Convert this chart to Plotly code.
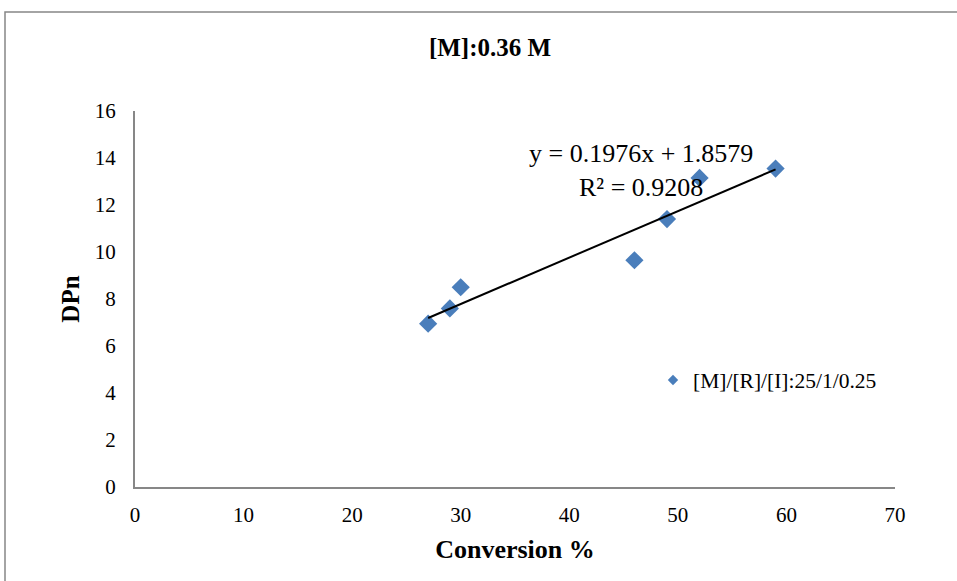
import plotly.graph_objects as go

# Monomer conversion (%) and degree of polymerisation
conversion = [27, 29, 30, 46, 49, 52, 59]
dpn = [6.95, 7.6, 8.5, 9.65, 11.4, 13.15, 13.55]

# Linear trendline coefficients
slope = 0.1976
intercept = 1.8579
r_squared = 0.9208

series_name = "[M]/[R]/[I]:25/1/0.25"
chart_title = "[M]:0.36 M"
x_ticks = [0, 10, 20, 30, 40, 50, 60, 70]
y_ticks = [0, 2, 4, 6, 8, 10, 12, 14, 16]

W, H = 957, 581
L, R, T, B = 135, 62, 111, 94
FONT = "Liberation Serif, Times New Roman, serif"
BLUE = "#4A7EBB"
AXIS = "#878787"

fig = go.Figure()

# data points
fig.add_trace(go.Scatter(
    x=conversion, y=dpn, mode="markers",
    marker=dict(symbol="diamond", size=14, color=BLUE),
    showlegend=False, cliponaxis=False,
))

# legend entry with a smaller marker
fig.add_trace(go.Scatter(
    x=[None], y=[None], mode="markers", name=series_name,
    marker=dict(symbol="diamond", size=8, color=BLUE),
))

# linear trendline across the data range
x_fit = [min(conversion), max(conversion)]
y_fit = [slope * v + intercept for v in x_fit]
fig.add_trace(go.Scatter(
    x=x_fit, y=y_fit, mode="lines",
    line=dict(color="black", width=2), showlegend=False,
))

pw, ph = W - L - R, H - T - B


def px_x(p):
    return (p - L) / pw


def px_y(p):
    return (H - B - p) / ph


fig.add_annotation(
    text=f"y = {slope}x + {intercept}<br>R² = {r_squared}",
    xref="paper", yref="paper", x=px_x(641), y=px_y(170),
    xanchor="center", yanchor="middle", align="center", showarrow=False,
    font=dict(family=FONT, size=26, color="black"),
)

# outer chart frame
fig.add_shape(
    type="rect", xref="paper", yref="paper",
    x0=px_x(5), x1=px_x(960), y0=px_y(600), y1=px_y(12),
    line=dict(color=AXIS, width=1.5), fillcolor="rgba(0,0,0,0)", layer="below",
)

fig.update_layout(
    width=W, height=H,
    margin=dict(l=L, r=R, t=T, b=B),
    paper_bgcolor="white", plot_bgcolor="white",
    font=dict(family=FONT, size=21, color="black"),
    title=dict(
        text=f"<b>{chart_title}</b>", x=490 / W,
        xref="container", yref="container", y=1 - 47 / H,
        xanchor="center", yanchor="middle",
        font=dict(family=FONT, size=25, color="black"),
    ),
    legend=dict(
        x=px_x(653), y=px_y(380), xanchor="left", yanchor="middle",
        bgcolor="rgba(0,0,0,0)", font=dict(family=FONT, size=21.5),
    ),
    xaxis=dict(
        range=[0, 70], tickvals=x_ticks, showgrid=False, zeroline=False,
        showline=True, linecolor=AXIS, linewidth=2, ticks="",
        ticklabelstandoff=8,
        title=dict(text="<b>Conversion %</b>", standoff=14,
                   font=dict(family=FONT, size=26)),
    ),
    yaxis=dict(
        range=[0, 16], tickvals=y_ticks, showgrid=False, zeroline=False,
        showline=True, linecolor=AXIS, linewidth=2, ticks="",
        ticklabelstandoff=13,
        title=dict(text="<b>DPn</b>", standoff=8,
                   font=dict(family=FONT, size=25)),
    ),
)

fig.write_html("out.html")
